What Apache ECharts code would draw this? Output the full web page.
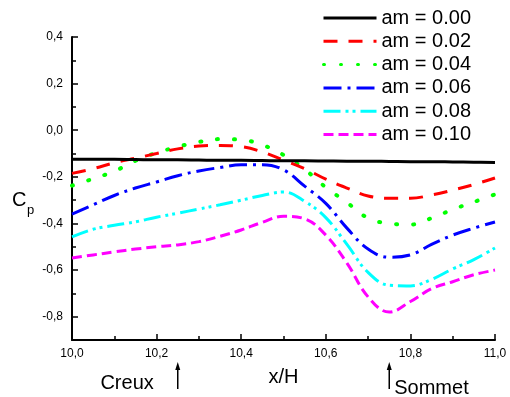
<!DOCTYPE html>
<html>
<head>
<meta charset="utf-8">
<script src="https://cdn.jsdelivr.net/npm/echarts@6/dist/echarts.min.js"></script>
<style>
  html, body { margin: 0; padding: 0; background: #fff; }
  #chart { width: 510px; height: 397px; }
</style>
</head>
<body>
<div id="chart"></div>
<script>
// x/H positions
const xValues = [10.00, 10.05, 10.10, 10.15, 10.20, 10.25, 10.30, 10.35, 10.40, 10.45, 10.50,
  10.55, 10.60, 10.65, 10.70, 10.75, 10.80, 10.85, 10.90, 10.95, 11.00];

// Cp for each amplitude
const am000 = [-0.124, -0.125, -0.125, -0.126, -0.127, -0.127, -0.128, -0.129, -0.129, -0.130, -0.131,
  -0.131, -0.132, -0.133, -0.133, -0.134, -0.135, -0.135, -0.136, -0.137, -0.138];
const am002 = [-0.185, -0.165, -0.140, -0.120, -0.100, -0.080, -0.068, -0.065, -0.070, -0.093, -0.128,
  -0.165, -0.210, -0.248, -0.282, -0.292, -0.292, -0.278, -0.257, -0.233, -0.205];
const am004 = [-0.238, -0.208, -0.176, -0.131, -0.097, -0.071, -0.050, -0.038, -0.041, -0.063, -0.106,
  -0.168, -0.245, -0.310, -0.377, -0.400, -0.405, -0.377, -0.340, -0.308, -0.275];
const am006 = [-0.360, -0.320, -0.280, -0.248, -0.222, -0.195, -0.175, -0.160, -0.148, -0.148, -0.170,
  -0.240, -0.314, -0.420, -0.510, -0.545, -0.535, -0.490, -0.450, -0.420, -0.394];
const am008 = [-0.458, -0.425, -0.408, -0.393, -0.373, -0.356, -0.338, -0.320, -0.300, -0.280, -0.265,
  -0.305, -0.375, -0.490, -0.610, -0.665, -0.668, -0.640, -0.595, -0.555, -0.505];
const am010 = [-0.548, -0.535, -0.522, -0.510, -0.500, -0.492, -0.478, -0.455, -0.428, -0.395, -0.369,
  -0.380, -0.450, -0.570, -0.715, -0.780, -0.735, -0.680, -0.650, -0.620, -0.600];

const seriesNames = ['am = 0.00', 'am = 0.02', 'am = 0.04', 'am = 0.06', 'am = 0.08', 'am = 0.10'];
const yMajorTicks = [-0.8, -0.6, -0.4, -0.2, 0.0, 0.2, 0.4];
const yMinorTicks = [-0.7, -0.5, -0.3, -0.1, 0.1, 0.3];
const creuxX = 10.25;
const sommetX = 10.75;

const FONT = 'Liberation Sans, Arial, sans-serif';

const chart = echarts.init(document.getElementById('chart'));

const styles = [
  { color: '#000000', type: 'solid', cap: 'butt' },
  { color: '#ff0000', type: [14, 11], cap: 'butt' },
  { color: '#00ff00', type: [1, 16], cap: 'round' },
  { color: '#0000ff', type: [18, 6, 3, 6], cap: 'butt' },
  { color: '#00ffff', type: [17, 5, 3, 4, 3, 5], cap: 'butt' },
  { color: '#ff00ff', type: [10, 5], cap: 'butt' },
];
const values = [am000, am002, am004, am006, am008, am010];

const series = values.map((vals, i) => ({
  name: seriesNames[i],
  type: 'line',
  symbol: 'none',
  symbolSize: 0,
  smooth: 0.4,
  color: styles[i].color,
  lineStyle: {
    color: styles[i].color,
    width: i === 2 ? 4 : 3,
    type: styles[i].type,
    cap: styles[i].cap,
  },
  data: xValues.map((x, j) => [x, vals[j]]),
  z: 10 - i,
}));

const fmt = (v) => {
  const s = Math.abs(v) < 1e-9 ? '0.0' : v.toFixed(1);
  return s.replace('.', ',');
};

const option = {
  animation: false,
  backgroundColor: '#fff',
  textStyle: { fontFamily: FONT },
  grid: { left: 72, right: 15, top: 37, bottom: 57 },
  legend: {
    data: seriesNames,
    orient: 'vertical',
    left: 317,
    top: 3,
    itemWidth: 53,
    itemHeight: 14,
    itemGap: 3.3,
    itemStyle: { opacity: 0 },
    lineStyle: { width: 3 },
    textStyle: { fontSize: 20, color: '#000', fontFamily: FONT, lineHeight: 20 },
  },
  xAxis: {
    type: 'value',
    min: 10,
    max: 11,
    interval: 0.2,
    name: 'x/H',
    nameLocation: 'middle',
    nameGap: 27,
    nameTextStyle: { fontSize: 20, color: '#000', fontFamily: FONT },
    axisLine: { show: true, onZero: false, lineStyle: { color: '#000', width: 2 } },
    axisTick: { show: true, inside: true, length: 6, lineStyle: { color: '#000', width: 1.5 } },
    minorTick: { show: true, splitNumber: 2, length: 4, lineStyle: { color: '#000', width: 1.5 } },
    splitLine: { show: false },
    axisLabel: { fontSize: 12, color: '#000', margin: 8, formatter: fmt },
  },
  yAxis: [
    {
      type: 'value',
      min: -0.9,
      max: 0.4,
      position: 'left',
      axisLine: { show: true, onZero: false, lineStyle: { color: '#000', width: 2 } },
      axisTick: { show: true, inside: true, length: 6, customValues: yMajorTicks, lineStyle: { color: '#000', width: 1.5 } },
      splitLine: { show: false },
      axisLabel: { fontSize: 12, color: '#000', margin: 9, customValues: yMajorTicks, formatter: fmt },
    },
    {
      type: 'value',
      min: -0.9,
      max: 0.4,
      position: 'left',
      offset: 0,
      axisLine: { show: false },
      axisTick: { show: true, inside: true, length: 4, customValues: yMinorTicks, lineStyle: { color: '#000', width: 1.5 } },
      splitLine: { show: false },
      axisLabel: { show: false },
    },
  ],
  series: series,
};

chart.setOption(option);

// annotations below the axis, placed from data positions
const axisY = chart.convertToPixel({ yAxisIndex: 0 }, -0.9);
const axisX = chart.convertToPixel({ xAxisIndex: 0 }, 10);
const cpY = chart.convertToPixel({ yAxisIndex: 0 }, -0.3);
const cx = chart.convertToPixel({ xAxisIndex: 0 }, creuxX);
const sx = chart.convertToPixel({ xAxisIndex: 0 }, sommetX);

const arrow = (x) => [
  {
    type: 'line',
    shape: { x1: x, y1: axisY + 28, x2: x, y2: axisY + 49 },
    style: { stroke: '#000', lineWidth: 1.5 },
  },
  {
    type: 'polygon',
    shape: { points: [[x, axisY + 22], [x - 2.5, axisY + 30], [x + 2.5, axisY + 30]] },
    style: { fill: '#000' },
  },
];

chart.setOption({
  graphic: [
    ...arrow(cx),
    ...arrow(sx),
    {
      type: 'text',
      x: cx - 24,
      y: axisY + 43,
      style: { text: 'Creux', font: '20px ' + FONT, fill: '#000', align: 'right', verticalAlign: 'middle' },
    },
    {
      type: 'text',
      x: sx + 5,
      y: axisY + 48,
      style: { text: 'Sommet', font: '20px ' + FONT, fill: '#000', align: 'left', verticalAlign: 'middle' },
    },
    {
      type: 'text',
      x: axisX - 60,
      y: cpY,
      style: { text: 'C', font: '20px ' + FONT, fill: '#000', align: 'left', verticalAlign: 'middle' },
    },
    {
      type: 'text',
      x: axisX - 45,
      y: cpY + 10,
      style: { text: 'p', font: '13px ' + FONT, fill: '#000', align: 'left', verticalAlign: 'middle' },
    },
  ],
});
</script>
</body>
</html>
